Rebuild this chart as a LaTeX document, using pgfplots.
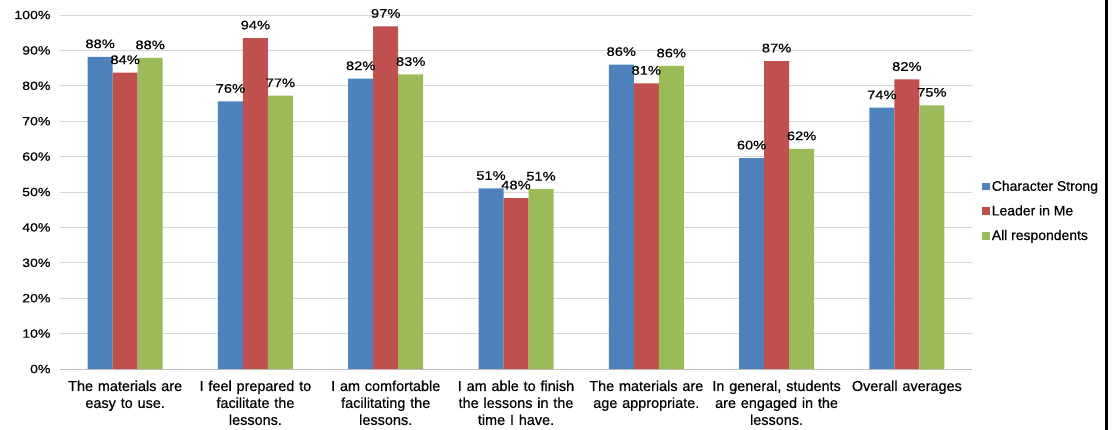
\documentclass[border=0pt]{standalone}
\usepackage{fontspec}
\setmainfont[FakeBold=0.5]{Liberation Sans}
\newfontfamily\widefont[FakeStretch=1.18,FakeBold=0.5]{Liberation Sans}
\usepackage{pgfplots}
\pgfplotsset{compat=1.18}
\definecolor{cblue}{HTML}{4F81BD}
\definecolor{cred}{HTML}{C0504D}
\definecolor{cgreen}{HTML}{9BBB59}
\begin{document}
\begin{tikzpicture}
\begin{axis}[
  name=ax,
  scale only axis, width=912bp, height=354bp,
  ybar=0pt, bar width=25bp,
  legend image code/.code={\fill[#1] (0bp,-3.8bp) rectangle (7.6bp,3.8bp);},
  xmin=-0.5, xmax=6.5, ymin=0, ymax=100,
  enlargelimits=false,
  axis x line*=bottom, axis y line*=left,
  x axis line style={draw=black!25, line width=0.8bp},
  y axis line style={draw=none},
  major tick length=0pt,
  ymajorgrids, grid style={draw=black!15, line width=0.8bp},
  xtick={0,1,2,3,4,5,6},
  xticklabels={{The materials are\\easy to use.},
               {I feel prepared to\\facilitate the\\lessons.},
               {I am comfortable\\facilitating the\\lessons.},
               {I am able to finish\\the lessons in the\\time I have.},
               {The materials are\\age appropriate.},
               {In general, students\\are engaged in the\\lessons.},
               {Overall averages}},
  xticklabel style={text width=140bp, align=center, anchor=north,
    font=\fontsize{14.5}{17}\selectfont, yshift=-8bp},
  ytick={0,10,...,100},
  yticklabel={\pgfmathprintnumber{\tick}\%},
  yticklabel style={font=\widefont\fontsize{12}{14}\selectfont, xshift=-6bp},
  /pgf/number format/assume math mode=true,
  nodes near coords={\pgfmathprintnumber[fixed,precision=0]{\pgfplotspointmeta}\%},
  nodes near coords style={font=\widefont\fontsize{12.5}{14}\selectfont, text=black, yshift=5bp},
  legend style={at={(1,0.446)}, anchor=west, xshift=10bp, draw=none, fill=none,
    font=\fontsize{14}{16}\selectfont, row sep=9bp, inner sep=0pt},
  legend cell align=left,
]
\addplot[fill=cblue, draw=none] coordinates {(0,88.2) (1,75.6) (2,82.0) (3,51.0) (4,86.0) (5,59.6) (6,73.8)};
\addlegendentry{Character Strong}
\addplot[fill=cred, draw=none] coordinates {(0,83.7) (1,93.5) (2,96.8) (3,48.3) (4,80.7) (5,87.0) (6,81.8)};
\addlegendentry{Leader in Me}
\addplot[fill=cgreen, draw=none] coordinates {(0,87.9) (1,77.2) (2,83.2) (3,50.8) (4,85.6) (5,62.2) (6,74.5)};
\addlegendentry{All respondents}
\end{axis}
\pgfresetboundingbox
\path[use as bounding box] ([shift={(-60bp,-61bp)}]ax.south west) rectangle ([shift={(1057bp,369bp)}]ax.south west);
\draw[line width=3bp] ([shift={(1046bp,-61bp)}]ax.south west) -- ++(0,430bp);
\end{tikzpicture}
\end{document}
